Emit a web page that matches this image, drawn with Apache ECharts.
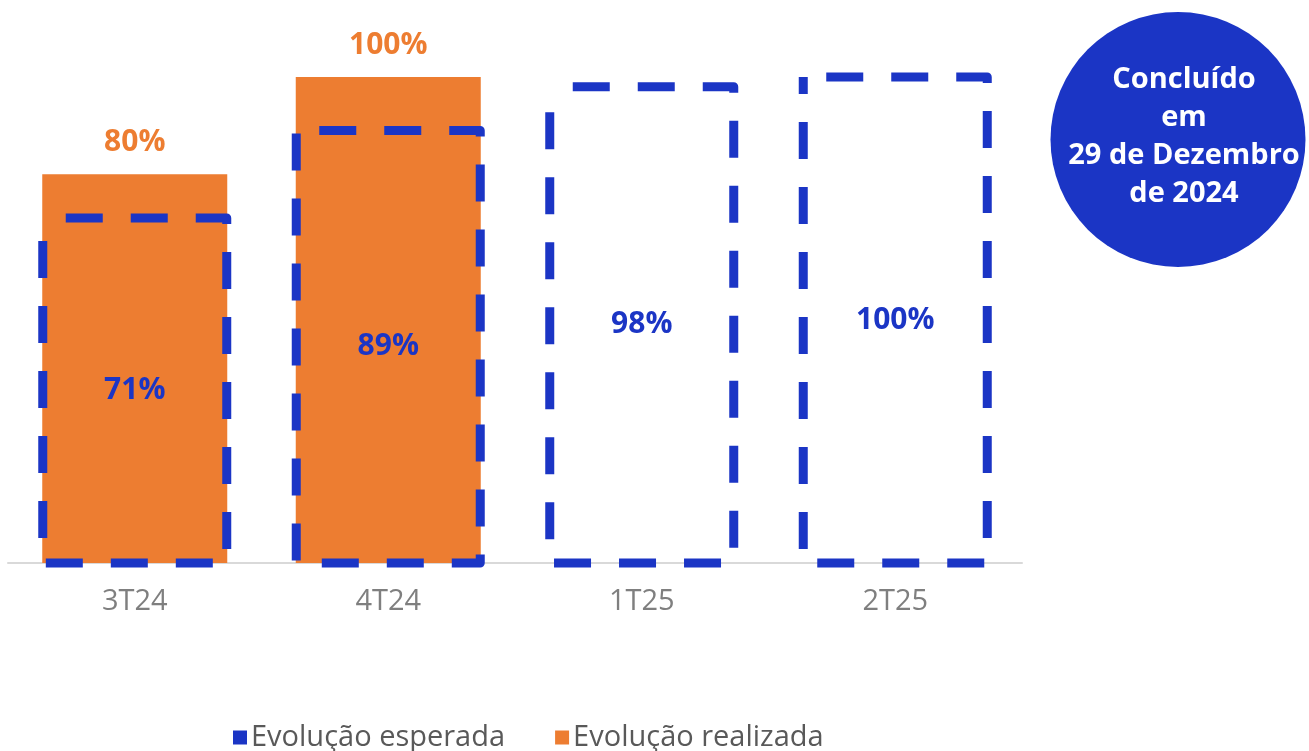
<!DOCTYPE html>
<html>
<head>
<meta charset="utf-8">
<script src="https://cdn.jsdelivr.net/npm/echarts@6/dist/echarts.min.js"></script>
<style>html,body{margin:0;padding:0;background:#fff}#c{width:1309px;height:751px}</style>
</head>
<body>
<div id="c"></div>
<script>
const categories = ['3T24', '4T24', '1T25', '2T25'];
const expectedValues = [71, 89, 98, 100];
const realizedValues = [80, 100, null, null];
const seriesNames = ['Evolução esperada', 'Evolução realizada'];
const badgeLines = ['Concluído', 'em', '29 de Dezembro', 'de 2024'];

const BLUE = '#1B35C5';
const ORANGE = '#ED7D31';
const FONT = '"Open Sans", "Noto Sans", sans-serif';
const BAR_W = 185;

const chart = echarts.init(document.getElementById('c'), null, {renderer: 'canvas'});
chart.setOption({
  animation: false,
  textStyle: {fontFamily: FONT},
  grid: {left: 8, right: 287, top: 77, bottom: 188, containLabel: false},
  xAxis: {
    type: 'category',
    data: categories,
    axisLine: {lineStyle: {color: '#d9d9d9', width: 2}},
    axisTick: {show: false},
    axisLabel: {color: '#7f7f7f', fontSize: 29, margin: 24, fontFamily: FONT}
  },
  yAxis: {type: 'value', min: 0, max: 100, show: false, splitLine: {show: false}},
  legend: {
    left: 228, top: 718,
    itemWidth: 14, itemHeight: 14, itemGap: 50,
    icon: 'rect',
    textStyle: {color: '#595959', fontSize: 29, fontFamily: FONT, padding: [0, 0, 0, -1]},
    data: [
      {name: seriesNames[0], itemStyle: {color: BLUE, borderWidth: 0}},
      {name: seriesNames[1], itemStyle: {color: ORANGE, borderWidth: 0}}
    ]
  },
  series: [
    {
      name: seriesNames[1],
      type: 'bar',
      data: realizedValues,
      barWidth: BAR_W,
      z: 2,
      itemStyle: {color: ORANGE},
      label: {
        show: true, position: 'top', distance: 17,
        formatter: p => p.value + '%',
        color: ORANGE, fontSize: 30, fontWeight: 'bold', fontFamily: FONT
      }
    },
    {
      name: seriesNames[0],
      type: 'custom',
      z: 3,
      clip: false,
      encode: {x: 0, y: 1},
      data: expectedValues.map((v, i) => [i, v]),
      itemStyle: {color: BLUE},
      renderItem: function (params, api) {
        const i = api.value(0), v = api.value(1);
        const top = api.coord([i, v]);
        const base = api.coord([i, 0]);
        const w = BAR_W - 1;
        const x = top[0] - w / 2;
        return {
          type: 'group',
          children: [
            {
              type: 'rect',
              shape: {x: x, y: top[1], width: w, height: base[1] - top[1]},
              style: {
                fill: 'none', stroke: BLUE, lineWidth: 9,
                lineDash: [37, 28], lineDashOffset: 42, lineJoin: 'round'
              }
            },
            {
              type: 'text',
              x: top[0], y: (top[1] + base[1]) / 2,
              style: {
                text: v + '%', fill: BLUE, font: 'bold 30px ' + FONT,
                align: 'center', verticalAlign: 'middle'
              }
            }
          ]
        };
      }
    }
  ],
  graphic: [
    {type: 'circle', shape: {cx: 1178, cy: 139.5, r: 127.5}, style: {fill: BLUE}, z: 10},
    {
      type: 'text', x: 1184, y: 137, z: 11,
      style: {
        text: badgeLines.join('\n'),
        fill: '#fff', font: 'bold 29px ' + FONT,
        align: 'center', verticalAlign: 'middle', lineHeight: 38
      }
    }
  ]
});
</script>
</body>
</html>
